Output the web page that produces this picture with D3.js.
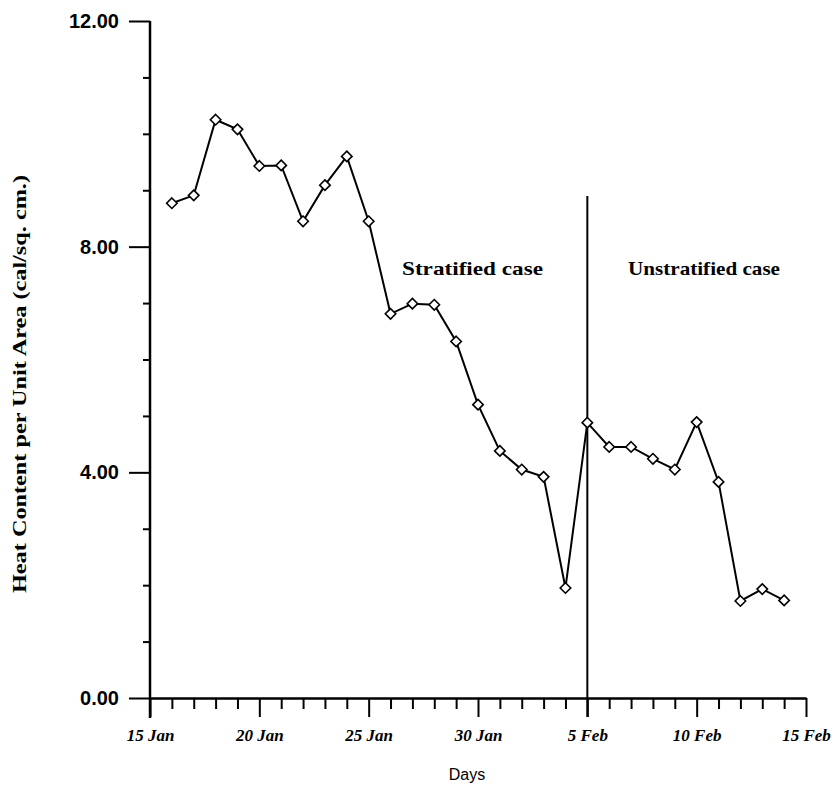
<!DOCTYPE html>
<html>
<head>
<meta charset="utf-8">
<script src="https://cdn.jsdelivr.net/npm/d3@7"></script>
<style>
  html, body { margin: 0; padding: 0; background: #fff; }
  svg { display: block; }
</style>
</head>
<body>
<svg id="chart" width="840" height="796"></svg>
<script>
// Day index counted from 15 Jan (index 0) to 15 Feb (index 30)
const dayIndex = [1, 2, 3, 4, 5, 6, 7, 8, 9, 10, 11, 12, 13, 14, 15, 16, 17, 18, 19, 20,
                  21, 22, 23, 24, 25, 26, 27, 28, 29];
// Heat content per unit area (cal/sq. cm.)
const heatContent = [8.77, 8.91, 10.25, 10.08, 9.43, 9.44, 8.45, 9.09, 9.60, 8.45,
                     6.81, 6.99, 6.97, 6.32, 5.20, 4.38, 4.05, 3.92, 1.95, 4.88,
                     4.45, 4.45, 4.24, 4.05, 4.89, 3.83, 1.72, 1.93, 1.73];
const xTickValues = [0, 5, 10, 15, 20, 25, 30];
const xTickLabels = ["15 Jan", "20 Jan", "25 Jan", "30 Jan", "5 Feb", "10 Feb", "15 Feb"];
const yTickValues = [0, 4, 8, 12];
const yTickLabels = ["0.00", "4.00", "8.00", "12.00"];
const dividerDay = 20;
const caseLabels = ["Stratified case", "Unstratified case"];

const svg = d3.select("#chart");
const x = d3.scaleLinear().domain([0, 30]).range([150, 806]);
const y = d3.scaleLinear().domain([0, 12]).range([698, 21]);

const serif = "'Liberation Serif', 'Times New Roman', serif";
const sans = "'Liberation Sans', Arial, sans-serif";

// Y axis: labelled major ticks every 4, minor ticks every 1
const yAxis = d3.axisLeft(y)
  .tickValues(yTickValues)
  .tickFormat((d, i) => yTickLabels[i])
  .tickSize(21)
  .tickSizeOuter(0)
  .tickPadding(10);
const gy = svg.append("g").attr("transform", `translate(${x(0)},0)`).call(yAxis);
gy.select(".domain").remove();
gy.selectAll(".tick line").attr("stroke", "#000").attr("stroke-width", 2);
gy.selectAll(".tick text")
  .attr("font-family", sans).attr("font-weight", "bold")
  .attr("font-size", 20).attr("fill", "#000");

const yMinor = d3.axisLeft(y)
  .tickValues(d3.range(0, 13).filter(v => v % 4 !== 0))
  .tickFormat("").tickSize(7).tickSizeOuter(0);
const gyMinor = svg.append("g").attr("transform", `translate(${x(0)},0)`).call(yMinor);
gyMinor.select(".domain").remove();
gyMinor.selectAll(".tick line").attr("stroke", "#000").attr("stroke-width", 2);

// Y axis line extends a little below the x axis
svg.append("line")
  .attr("x1", x(0)).attr("x2", x(0))
  .attr("y1", y(12)).attr("y2", y(0) + 20)
  .attr("stroke", "#000").attr("stroke-width", 2.5);

// X axis: labelled major ticks every 5 days, minor tick every day
const xAxis = d3.axisBottom(x)
  .tickValues(xTickValues)
  .tickFormat((d, i) => xTickLabels[i])
  .tickSize(19)
  .tickSizeOuter(0)
  .tickPadding(12);
const gx = svg.append("g").attr("transform", `translate(0,${y(0)})`).call(xAxis);
gx.select(".domain").attr("stroke", "#000").attr("stroke-width", 2.5);
gx.selectAll(".tick line").attr("stroke", "#000").attr("stroke-width", 2);
gx.selectAll(".tick text")
  .attr("font-family", serif).attr("font-weight", "bold").attr("font-style", "italic")
  .attr("font-size", 17).attr("fill", "#000");

const xMinor = d3.axisBottom(x)
  .tickValues(d3.range(0, 31).filter(v => v % 5 !== 0))
  .tickFormat("").tickSize(11).tickSizeOuter(0);
const gxMinor = svg.append("g").attr("transform", `translate(0,${y(0)})`).call(xMinor);
gxMinor.select(".domain").remove();
gxMinor.selectAll(".tick line").attr("stroke", "#000").attr("stroke-width", 2);

// Divider between the stratified and unstratified periods
svg.append("line")
  .attr("x1", x(dividerDay)).attr("x2", x(dividerDay))
  .attr("y1", 196).attr("y2", y(0) + 19)
  .attr("stroke", "#000").attr("stroke-width", 2);

// Data line
const line = d3.line()
  .x((d, i) => x(dayIndex[i]))
  .y(d => y(d));
svg.append("path")
  .datum(heatContent)
  .attr("d", line)
  .attr("fill", "none")
  .attr("stroke", "#000")
  .attr("stroke-width", 2);

// Diamond markers
const diamond = d3.symbol().type(d3.symbolDiamond2).size(70);
svg.append("g").selectAll("path")
  .data(heatContent)
  .join("path")
  .attr("transform", (d, i) => `translate(${x(dayIndex[i])},${y(d)})`)
  .attr("d", diamond)
  .attr("fill", "#fff")
  .attr("stroke", "#000")
  .attr("stroke-width", 1.6);

// Period labels
svg.append("text")
  .attr("x", 402).attr("y", 275)
  .attr("font-family", serif).attr("font-weight", "bold")
  .attr("font-size", 19).attr("fill", "#000")
  .attr("textLength", 141).attr("lengthAdjust", "spacingAndGlyphs")
  .text(caseLabels[0]);
svg.append("text")
  .attr("x", 628).attr("y", 275)
  .attr("font-family", serif).attr("font-weight", "bold")
  .attr("font-size", 19).attr("fill", "#000")
  .attr("textLength", 152).attr("lengthAdjust", "spacingAndGlyphs")
  .text(caseLabels[1]);

// Axis titles
svg.append("text")
  .attr("x", 467).attr("y", 780)
  .attr("text-anchor", "middle")
  .attr("font-family", sans)
  .attr("font-size", 16).attr("fill", "#000")
  .text("Days");
svg.append("text")
  .attr("transform", "translate(26,593) rotate(-90)")
  .attr("font-family", serif).attr("font-weight", "bold")
  .attr("font-size", 19).attr("fill", "#000")
  .attr("textLength", 418).attr("lengthAdjust", "spacingAndGlyphs")
  .text("Heat Content per Unit Area (cal/sq. cm.)");
</script>
</body>
</html>
